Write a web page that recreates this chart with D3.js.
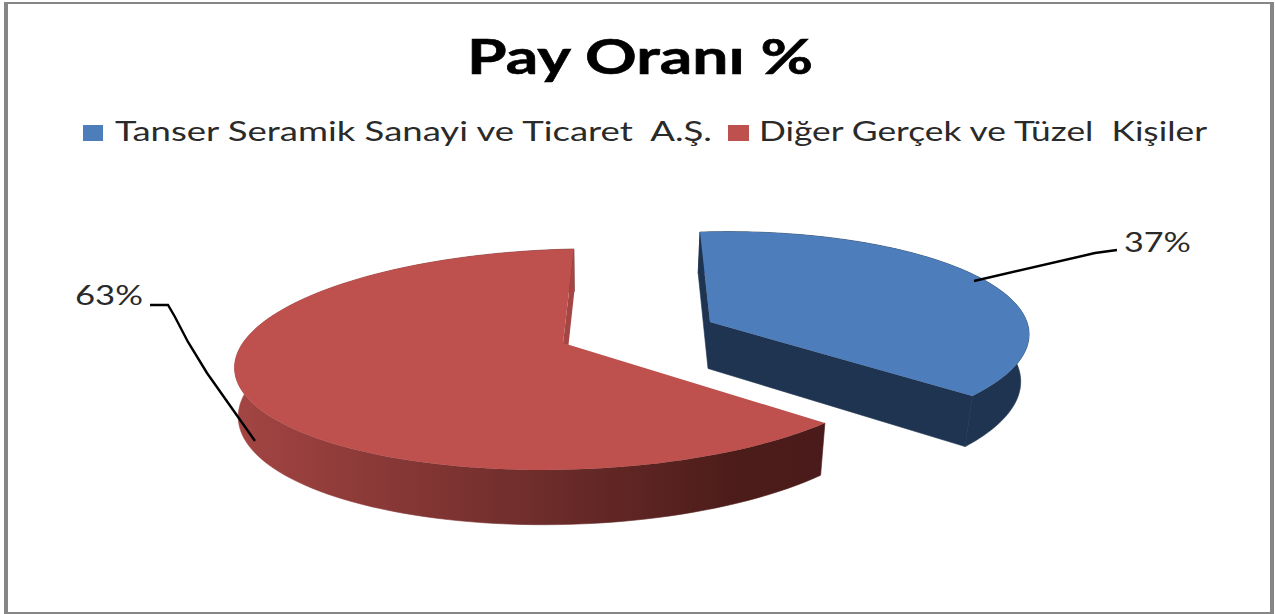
<!DOCTYPE html>
<html><head><meta charset="utf-8">
<script src="https://cdn.jsdelivr.net/npm/d3@7"></script>
<style>html,body{margin:0;background:#fff}svg{display:block}text{font-family:Lato,"Open Sans",sans-serif;fill:#2a2a2a;white-space:pre}</style>
</head><body><svg id="c" width="1275" height="614"></svg>
<script>
const titleText = "Pay Oranı %";
const categories = ["Tanser Seramik Sanayi ve Ticaret  A.Ş.", "Diğer Gerçek ve Tüzel  Kişiler"];
const values = [37, 63];
const faceColors = ["#4d7ebb", "#be504d"];
const wallColors = ["#1f3450", "#a54644"];

const svg = d3.select("#c");
// frame
[[4,2,1270,2],[4,2,4,612],[1270,2,4,612],[4,612,1270,2]].forEach(r=>{
  svg.append("rect").attr("x",r[0]).attr("y",r[1]).attr("width",r[2]).attr("height",r[3]).attr("fill","#868686");
});

// perspective camera of the 3-D pie: a homography of the unit disc
const c1 = -0.02, c2 = 0.149;
const cams = [
  {a0:710, b0:322, a1:293, a2:94.3, b1:-13.9, b2:-55.4},
  {a0:563, b0:343, a1:318, a2:96.5, b1:-11.2, b2:-56.9}
];
const vanishX = 610;
function topRim(cam, t){
  const X = Math.sin(t), Y = Math.cos(t), w = 1 + c1*X + c2*Y;
  return [(cam.a0 + cam.a1*X + cam.a2*Y)/w, (cam.b0 + cam.b1*X + cam.b2*Y)/w];
}
function lower(p){
  const k = p[0] > vanishX ? 0.98 : 0.99;
  return [vanishX + (p[0]-vanishX)*k, p[1] + 46.5 + (p[1]-322)*0.056];
}
const line = d3.line();
const pie = d3.pie().sort(null).value(d=>d).startAngle(0).endAngle(2*Math.PI);
const arcs = pie(values);
function arcPts(cam, a0, a1){
  const n = 120;
  return d3.range(n+1).map(i=>topRim(cam, a0+(a1-a0)*i/n));
}

const defs = svg.append("defs");
const grad = defs.append("linearGradient").attr("id","redWall")
  .attr("gradientUnits","userSpaceOnUse").attr("x1",236).attr("x2",825).attr("y1",0).attr("y2",0);
[[0,"#a34543"],[0.2,"#8e3b39"],[0.55,"#6a2b29"],[0.85,"#4c1c1a"],[1,"#4a1b1a"]]
  .forEach(s=>grad.append("stop").attr("offset",s[0]).attr("stop-color",s[1]));

const g = svg.append("g");
// red first, blue exploded on top
[1,0].forEach(i=>{
  const a = arcs[i], cam = cams[i];
  const rim = arcPts(cam, a.startAngle, a.endAngle);
  const apexT = [cam.a0, cam.b0], apexB = lower(apexT);
  const wallCol = wallColors[i];
  const s = rim[0], e = rim[rim.length-1];
  // outer wall
  const wallFill = i===1 ? "url(#redWall)" : wallColors[0];
  g.append("path").attr("d", line(rim.concat(rim.map(lower).reverse()))+"Z")
    .attr("fill", wallFill).attr("stroke", wallFill).attr("stroke-width",0.6);
  // inner walls
  if(i===0){
    g.append("path").attr("d", line([apexT, s, lower(s), apexB, lower(e), e])+"Z")
      .attr("fill", wallCol).attr("stroke", wallCol).attr("stroke-width",0.6);
  } else {
    g.append("path").attr("d", line([apexT, e, lower(e), apexB])+"Z").attr("fill", wallCol);
  }
  // top face
  g.append("path").attr("d", line([apexT].concat(rim))+"Z").attr("fill", faceColors[i]);
});

// leaders
const leaderPts = [
  [[974,281],[1095,253],[1117,250]],
  [[150,305],[168,305],[175,317],[188,342],[207,373],[255,441]]
];
leaderPts.forEach(p=>g.append("path").attr("d",line(p)).attr("fill","none").attr("stroke","#000").attr("stroke-width",2.4));

// labels
const labelPos = [[1124,252,67],[75,305,68]];
values.forEach((v,i)=>{
  svg.append("text").attr("x",labelPos[i][0]).attr("y",labelPos[i][1])
    .attr("font-size",26).attr("textLength",labelPos[i][2]).attr("lengthAdjust","spacingAndGlyphs")
    .text(v+"%");
});

// title
svg.append("text").attr("x",467).attr("y",74).attr("font-size",47).attr("font-weight",700)
  .attr("textLength",346).attr("lengthAdjust","spacingAndGlyphs")
  .style("fill","#000").attr("stroke","#000").attr("stroke-width",0.6).text(titleText);

// legend
const legend = [{sx:83,sw:20,tx:115,tl:597},{sx:728,sw:21,tx:759,tl:448}];
categories.forEach((c,i)=>{
  svg.append("rect").attr("x",legend[i].sx).attr("y",125).attr("width",legend[i].sw).attr("height",16).attr("fill",faceColors[i]);
  svg.append("text").attr("x",legend[i].tx).attr("y",141).attr("font-size",26)
    .attr("textLength",legend[i].tl).attr("lengthAdjust","spacingAndGlyphs").text(c);
});
</script></body></html>
